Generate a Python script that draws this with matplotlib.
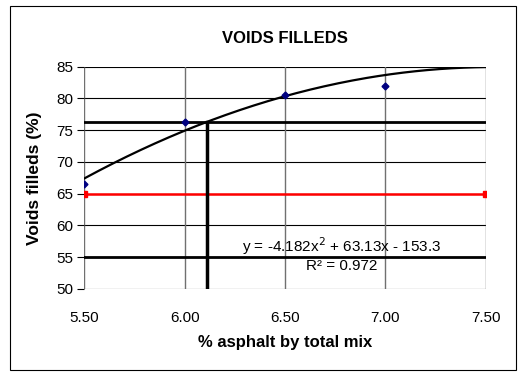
import numpy as np
import matplotlib
matplotlib.use("Agg")
from matplotlib import pyplot as plt
from matplotlib.patches import Rectangle

plt.rcParams['font.family'] = ['Liberation Sans', 'DejaVu Sans']

# measured voids filled vs asphalt content
asphalt = [5.5, 6.0, 6.5, 7.0]
voids_filled = [66.5, 76.3, 80.5, 82.0]

# quadratic trendline coefficients
coef = [-4.182, 63.13, -153.3]
r2 = 0.972

# spec limits and design lines
spec_min = 65
design_vfa = 76.3
lower_line = 55
x_range = [5.5, 7.5]
x_ticks = [5.5, 6.0, 6.5, 7.0, 7.5]

fig = plt.figure(figsize=(5.24, 3.74), dpi=100)
fig.patches.append(Rectangle((10 / 524, 4 / 374), 506 / 524, 364 / 374,
                             transform=fig.transFigure, fill=False,
                             edgecolor='black', linewidth=0.8))
ax = fig.add_axes([0.161, 0.2273, 0.766, 0.5944])

xs = np.linspace(x_range[0], x_range[1], 200)
ax.plot(xs, np.polyval(coef, xs), color='black', linewidth=1.6, zorder=4)
ax.plot(asphalt, voids_filled, 'D', color='#000080', markersize=3.5, zorder=5)

# design asphalt content where trendline meets design line
a, b, c = coef
c2 = c - design_vfa
x_opt = (-b + np.sqrt(b * b - 4 * a * c2)) / (2 * a)

ax.plot(x_range, [design_vfa, design_vfa], color='black', linewidth=2, zorder=3)
ax.plot(x_range, [lower_line, lower_line], color='black', linewidth=2, zorder=3)
ax.plot(x_range, [spec_min, spec_min], color='red', linewidth=1.8,
        marker='s', markersize=4, zorder=3)
ax.plot([x_opt, x_opt], [50, design_vfa], color='black', linewidth=2.5, zorder=3)

ax.text(6.78, 56.8, 'y = -4.182x$^2$ + 63.13x - 153.3', fontsize=11,
        ha='center', va='center', color='black')
ax.text(6.78, 53.6, 'R² = %.3f' % r2, fontsize=11, ha='center', va='center',
        color='black')

ax.set_xlim(5.5, 7.5)
ax.set_ylim(50, 85)
ax.set_xticks(x_ticks)
ax.set_xticklabels(['%.2f' % v for v in x_ticks])
ax.set_yticks(range(50, 86, 5))
for y in range(50, 86, 5):
    ax.axhline(y, color='black', linewidth=0.8, zorder=1)
for x in x_ticks:
    ax.axvline(x, color='#707070', linewidth=1, zorder=1)
for s in ax.spines.values():
    s.set_visible(False)
ax.tick_params(axis='y', length=5, width=0.8, labelsize=11, pad=3)
ax.tick_params(axis='x', length=0, labelsize=11, pad=16)

ax.set_title('VOIDS FILLEDS', fontsize=12, fontweight='bold', pad=17)
ax.set_xlabel('% asphalt by total mix', fontsize=12, fontweight='bold', labelpad=7)
ax.set_ylabel('Voids filleds (%)', fontsize=12.5, fontweight='bold', labelpad=10)

fig.savefig('out.png', dpi=100)
